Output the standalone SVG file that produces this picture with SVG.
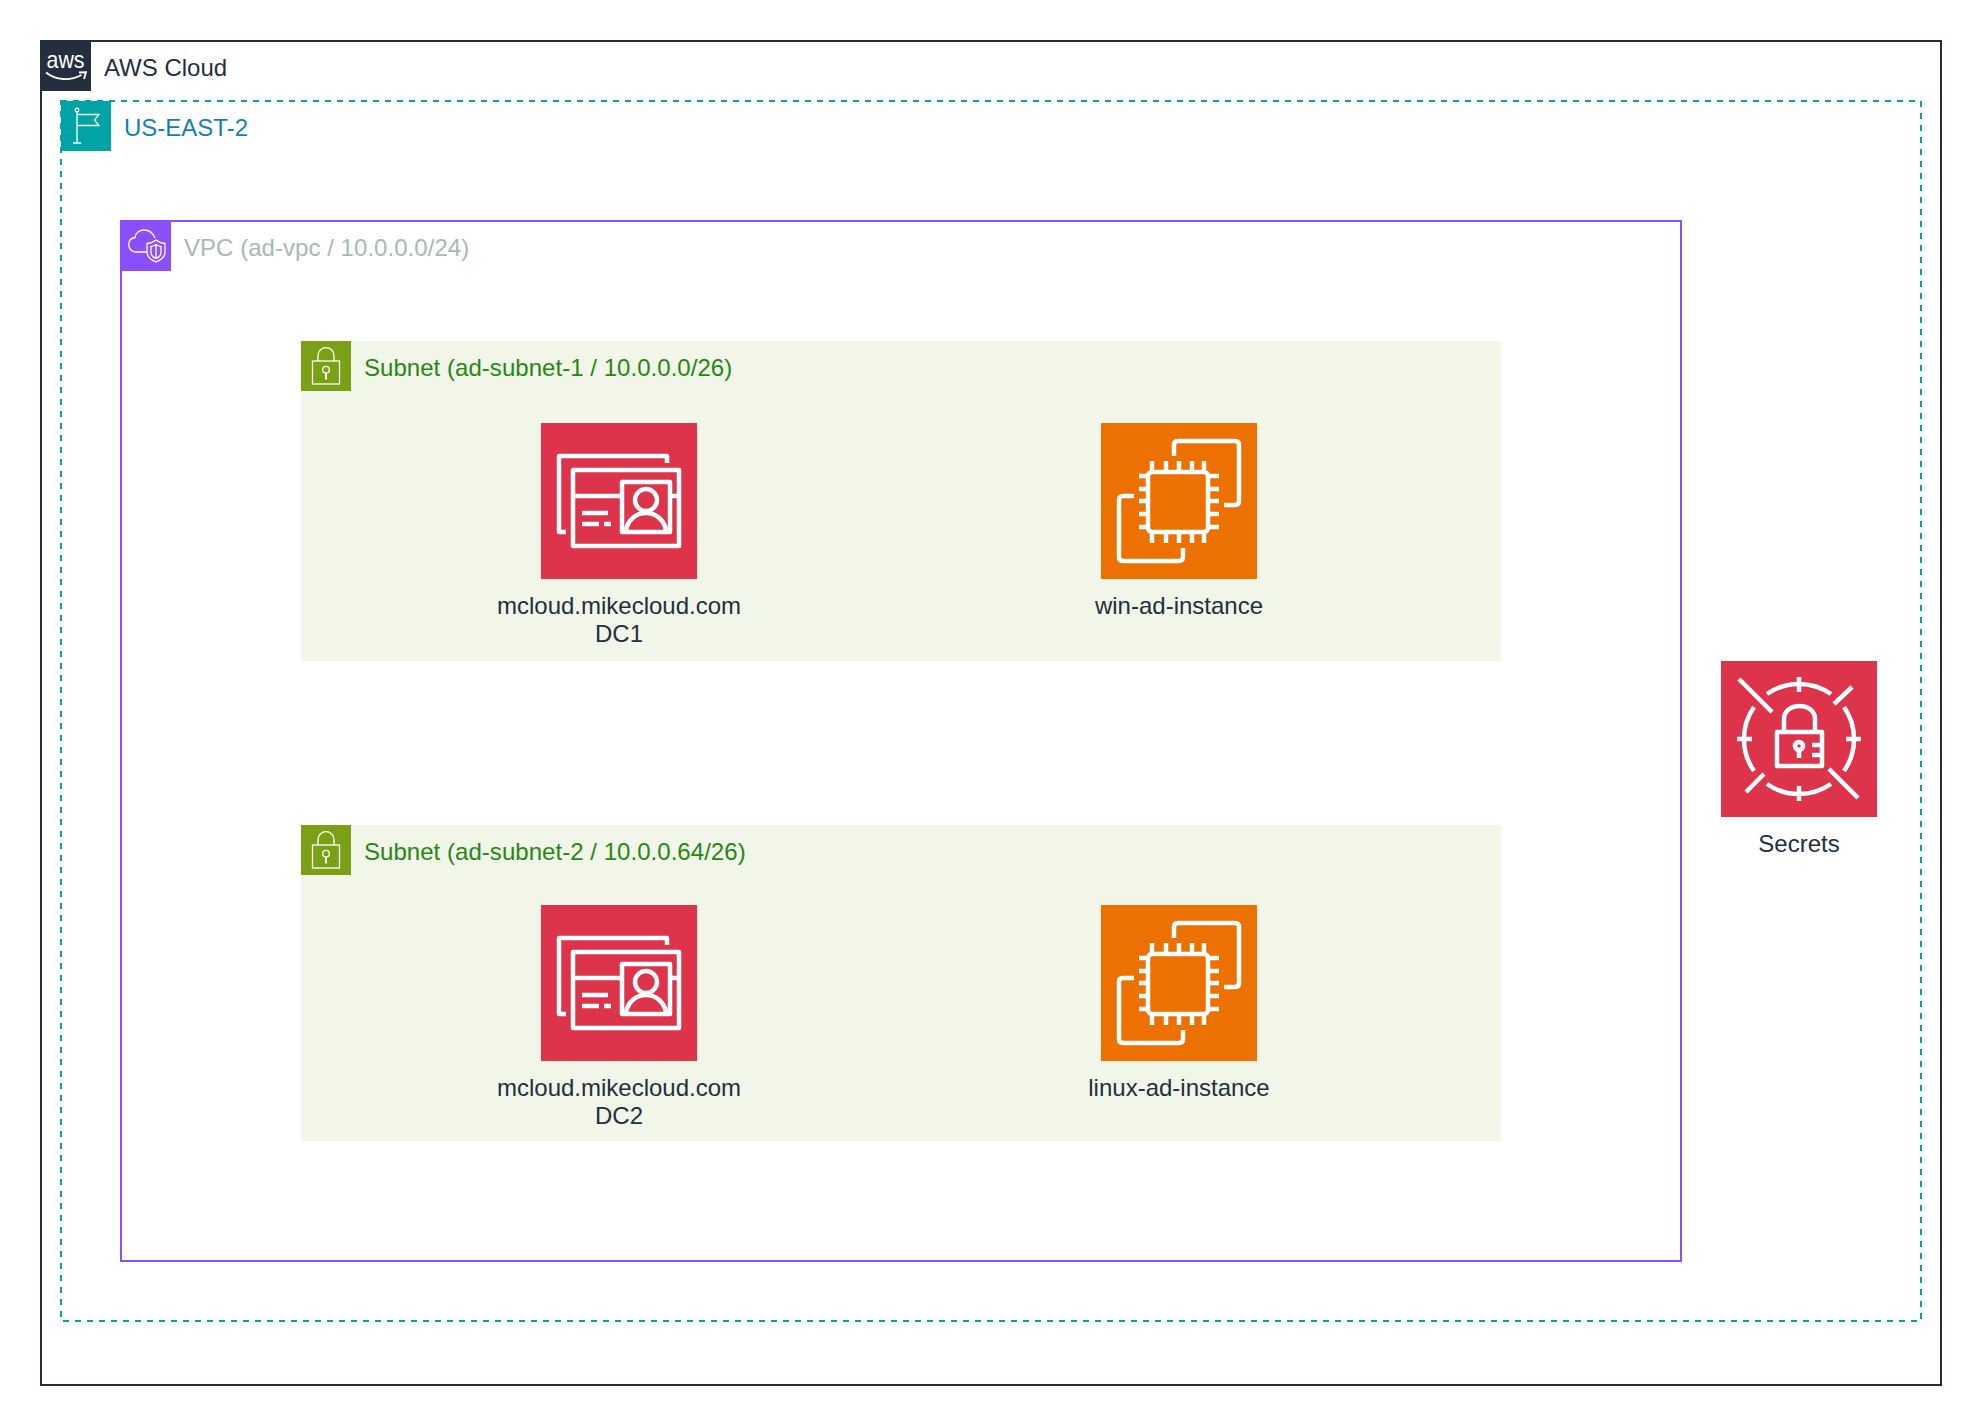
<svg xmlns="http://www.w3.org/2000/svg" width="1982" height="1426" viewBox="0 0 1982 1426">
<style>
text{font-family:"Liberation Sans",Arial,Helvetica,sans-serif;font-size:24px;fill:#232F3E}
.c{text-anchor:middle}
.ic{fill:none;stroke:#fff;stroke-width:4.500;stroke-linejoin:round}
.sm{fill:none;stroke:#fff;stroke-width:1.300}
.lbl{letter-spacing:.04px}
</style>
<defs>
<g id="dir-icon">
<rect width="156" height="156" fill="#DD344C"/>
<g class="ic">
<path d="M126 40V33H18V109H25"/>
<path d="M32 47H138V123H32Z"/>
<path d="M32 73H81M129 73H138"/>
<path d="M81 59H129V109H81Z"/>
<circle cx="105" cy="77" r="11"/>
<path d="M85 107C87 97 95 90 105 90C115 90 123 97 125 107"/>
<path d="M41 90H67M41 101H58M63 101H70"/>
</g>
</g>
<g id="ec2-icon">
<rect width="156" height="156" fill="#ED7100"/>
<g class="ic">
<rect x="47" y="49" width="60" height="60" rx="4"/>
<path d="M51 38V47M65 38V47M78 38V47M91 38V47M103 38V47M51 111V120M65 111V120M78 111V120M91 111V120M103 111V120"/>
<path d="M38 53H47M38 66H47M38 78H47M38 91H47M38 104H47M109 53H118M109 66H118M109 78H118M109 91H118M109 104H118"/>
<path d="M73 33V22Q73 18 77 18H134Q138 18 138 22V78Q138 82 134 82H123"/>
<path d="M33 73H22Q18 73 18 77V134Q18 138 22 138H78Q82 138 82 134V125"/>
</g>
</g>
<g id="subnet-icon">
<rect width="50" height="50" fill="#7AA116"/>
<g class="sm">
<rect x="11.500" y="20" width="27" height="23"/>
<path d="M17 20V14.500C17 10 20.500 6.700 25 6.700C29.500 6.700 33 10 33 14.500V20"/>
<circle cx="25" cy="28.700" r="3.300"/>
<path d="M25 32V38.500" stroke-width="2"/>
</g>
</g>
</defs>

<g id="connectors"/>

<g id="aws-cloud">
<rect x="41" y="41" width="1900" height="1344" fill="none" stroke="#232F3E" stroke-width="2"/>
<rect x="41" y="41" width="50" height="50" fill="#232F3E"/>
<text x="46.500" y="67.500" textLength="38" lengthAdjust="spacingAndGlyphs" style="fill:#fff;font-size:24px">aws</text>
<path d="M46 72.500C56 80.500 70 81 81.500 75" fill="none" stroke="#fff" stroke-width="1.800"/>
<path d="M79 72.500L86 72.300L84 79" fill="none" stroke="#fff" stroke-width="1.800"/>
<text x="104" y="76">AWS Cloud</text>
</g>

<g id="region">
<rect x="61" y="101" width="1860" height="1220" fill="none" stroke="#00A4A6" stroke-width="2" stroke-dasharray="6 6"/>
<rect x="61" y="101" width="50" height="50" fill="#00A4A6"/>
<g class="sm">
<path d="M77 112V143M73 143H81"/>
<circle cx="77" cy="110" r="1.800"/>
<path d="M77 114.500H99L94.500 120L99 125.500H77"/>
</g>
<text x="124" y="136" style="fill:#147EBA">US-EAST-2</text>
</g>

<g id="vpc">
<rect x="121" y="221" width="1560" height="1040" fill="none" stroke="#8C4FFF" stroke-width="2"/>
<rect x="121" y="221" width="50" height="50" fill="#8C4FFF"/>
<g class="sm">
<path d="M146.500 252H136C131.500 252 128.700 248.500 128.700 244.500C128.700 240.500 131.500 238 135 237.500C135.500 233 139.500 230 144 230C149 230 153 233 155 238"/>
<path d="M156 240C152 243 149.500 243.500 147 243.500V252C147 257 151 260 156 262C161 260 165 257 165 252V243.500C162.500 243.500 160 243 156 240Z"/>
<path d="M156 244.500C154 246 152.500 246.500 151 246.500V252C151 255 153 257.500 156 258.500C159 257.500 161 255 161 252V246.500C159.500 246.500 158 246 156 244.500ZM156 244.500V258.500"/>
</g>
<text class="lbl" x="184" y="256" style="fill:#AAB7B8">VPC (ad-vpc / 10.0.0.0/24)</text>
</g>

<g id="subnet-1">
<rect x="301" y="341" width="1200" height="320" fill="#F2F6E8"/>
<use href="#subnet-icon" x="301" y="341"/>
<text class="lbl" x="364" y="376" style="fill:#248814">Subnet (ad-subnet-1 / 10.0.0.0/26)</text>
</g>

<g id="subnet-2">
<rect x="301" y="825" width="1200" height="316" fill="#F2F6E8"/>
<use href="#subnet-icon" x="301" y="825"/>
<text class="lbl" x="364" y="860" style="fill:#248814">Subnet (ad-subnet-2 / 10.0.0.64/26)</text>
</g>

<g id="dc1">
<use href="#dir-icon" x="541" y="423"/>
<text class="c" x="619" y="614">mcloud.mikecloud.com</text>
<text class="c" x="619" y="642">DC1</text>
</g>

<g id="win-ad-instance">
<use href="#ec2-icon" x="1101" y="423"/>
<text class="c" x="1179" y="614">win-ad-instance</text>
</g>

<g id="dc2">
<use href="#dir-icon" x="541" y="905"/>
<text class="c" x="619" y="1096">mcloud.mikecloud.com</text>
<text class="c" x="619" y="1124">DC2</text>
</g>

<g id="linux-ad-instance">
<use href="#ec2-icon" x="1101" y="905"/>
<text class="c" x="1179" y="1096">linux-ad-instance</text>
</g>

<g id="secrets">
<rect x="1721" y="661" width="156" height="156" fill="#DD344C"/>
<g class="ic" transform="translate(1721 661)">
<path d="M78 16V31M78 125V140M16 78H31M125 78H140"/>
<path d="M46 33A56 56 0 0 1 110 33M123 46A56 56 0 0 1 123 110M110 123A56 56 0 0 1 46 123M33 110A56 56 0 0 1 33 46"/>
<path d="M18 18L51 51M131 26L113 43M25 131L43 113M108 108L137 137"/>
<path d="M56 71H101V105H56Z"/>
<path d="M63 71V58C63 50 70 45 78.500 45C87 45 94 50 94 58V71"/>
<circle cx="78" cy="85" r="4"/>
<path d="M78 89V97M91 84H101M91 94H101"/>
</g>
<text class="c" x="1799" y="852">Secrets</text>
</g>
</svg>
